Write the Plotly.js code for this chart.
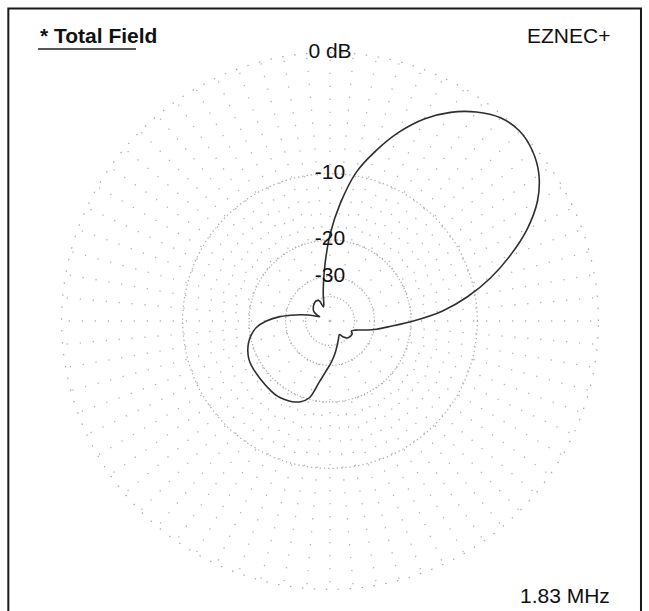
<!DOCTYPE html>
<html>
<head>
<meta charset="utf-8">
<script src="https://cdn.plot.ly/plotly-3.0.1.min.js"></script>
<style>
  html, body { margin: 0; padding: 0; background: #ffffff; }
  #chart { width: 649px; height: 611px; }
</style>
</head>
<body>
<div id="chart"></div>
<script>
// ---- data (azimuth in degrees, gain in dB relative to max) ----
const azimuthDeg = [0, 5, 10, 15, 20, 25, 30, 35, 40, 45, 50, 55, 60, 65, 70, 75, 80, 85, 90, 95,
  100, 105, 110, 115, 118, 125, 135, 145, 150, 155, 158, 162, 165, 170, 175, 180, 185, 190, 195,
  200, 205, 210, 220, 230, 235, 240, 245, 250, 255, 260, 265, 270, 275, 280, 285, 290, 295, 300,
  305, 310, 315, 320, 325, 330, 335, 340, 345, 350, 355, 360];
const gainDb = [-19.5, -14.5, -10.9, -8.0, -5.6, -3.5, -1.9, -0.85, -0.25, 0, -0.2, -0.85, -1.8, -3.1,
  -4.85, -7.05, -9.6, -13.7, -18.9, -25.8,
  -32.7, -39, -45, -47.5, -41, -40, -41, -43, -44.5, -49, -53, -46, -41, -34, -27.9, -24, -21.5, -20.2, -19.3,
  -18.7, -18.3, -18.15, -18.1, -17.95, -17.9, -18.1, -18.4, -19.0, -20.3, -24.4, -27.7, -30.3, -33.0, -35.8,
  -38.6, -41.2, -43.3, -45.3,
  -46.5, -42.5, -40.3, -39.5, -39.2, -39.2, -40.5, -38.5, -34, -29, -24.7, -19.5];

// ring levels and their labels
const ringDb = [0, -10, -20, -30];
const ringLabels = ['0 dB', '-10', '-20', '-30'];
const innerRingDb = [-20, -30, -40];
const midRingDb = [-10];
const outerRingDb = [0];

const legendText = '* Total Field';
const programText = 'EZNEC+';
const freqText = '1.83 MHz';

// ARRL log scale: radius shrinks by STEP for every 2 dB
const STEP = 0.887;
const toR = db => Math.pow(STEP, -db / 2);
const RMAX = 1.006;

const FONT = 'Liberation Sans, Arial, Helvetica, sans-serif';
const GRID = '#a8a8a8';
const SPOKE = '#b2b2b2';
const radialDots = '1.3px,11.7px';

const ang15 = [], ang5 = [];
for (let a = 0; a < 360; a += 15) if (a % 90 !== 0) ang15.push(a);
for (let a = 0; a < 360; a += 5) if (a % 15 !== 0) ang5.push(a);
const ang90 = [0, 90, 180, 270];

function angAxis(vals) {
  return {
    tickmode: 'array', tickvals: vals, showticklabels: false, ticks: '',
    showline: false, showgrid: true, gridcolor: SPOKE, gridwidth: 1.3,
    griddash: radialDots, rotation: 0, direction: 'counterclockwise'
  };
}
function radAxis(lo, dbs, dash) {
  return {
    range: [lo, RMAX], tickmode: 'array', tickvals: dbs.map(toR),
    showticklabels: false, ticks: '', showline: false,
    showgrid: dbs.length > 0, gridcolor: GRID, gridwidth: 1.2, griddash: dash
  };
}

const lo1 = toR(-30), lo2 = toR(-20);

// grid-only subplots need a (hidden) trace to be drawn
function gridHolder(sub, lo) {
  return {
    type: 'scatterpolar', subplot: sub, mode: 'markers',
    theta: [0], r: [lo], marker: { size: 1, color: 'rgba(0,0,0,0)' },
    hoverinfo: 'skip', showlegend: false
  };
}

const traces = [
  gridHolder('polar', lo1),
  gridHolder('polar2', lo2),
  {
    type: 'scatterpolar', subplot: 'polar3', mode: 'lines',
    theta: azimuthDeg, r: gainDb.map(toR),
    line: { color: '#2e2e2e', width: 1.6, shape: 'spline', smoothing: 0.9 },
    hoverinfo: 'skip', showlegend: false
  },
  {
    type: 'scatterpolar', subplot: 'polar3', mode: 'text',
    theta: ringDb.map(() => 90), r: ringDb.map(toR), text: ringLabels,
    textposition: 'middle center', cliponaxis: false,
    textfont: { family: FONT, size: 21, color: '#111111' },
    hoverinfo: 'skip', showlegend: false
  }
];

const layout = {
  width: 649, height: 611,
  margin: { l: 60, r: 49, t: 51, b: 20, pad: 0 },
  paper_bgcolor: '#ffffff', plot_bgcolor: '#ffffff',
  showlegend: false,
  font: { family: FONT, color: '#111111' },
  polar: {
    domain: { x: [0, 1], y: [0, 1] }, bgcolor: 'rgba(0,0,0,0)', hole: lo1 / RMAX,
    radialaxis: radAxis(lo1, outerRingDb, '1.5px,10.5px'),
    angularaxis: angAxis(ang15)
  },
  polar2: {
    domain: { x: [0, 1], y: [0, 1] }, bgcolor: 'rgba(0,0,0,0)', hole: lo2 / RMAX,
    radialaxis: radAxis(lo2, midRingDb, '1.3px,3px'),
    angularaxis: angAxis(ang5)
  },
  polar3: {
    domain: { x: [0, 1], y: [0, 1] }, bgcolor: 'rgba(0,0,0,0)', hole: 0,
    radialaxis: radAxis(0, innerRingDb, '1.2px,2.1px'),
    angularaxis: angAxis(ang90)
  },
  annotations: [
    { text: '<b>' + legendText + '</b>', xref: 'paper', yref: 'paper', x: -0.0407, y: 1.0278,
      xanchor: 'left', yanchor: 'middle', showarrow: false, font: { family: FONT, size: 21, color: '#111' } },
    { text: programText, xref: 'paper', yref: 'paper', x: 1.0222, y: 1.0278,
      xanchor: 'right', yanchor: 'middle', showarrow: false, font: { family: FONT, size: 21, color: '#111' } },
    { text: freqText, xref: 'paper', yref: 'paper', x: 1.0222, y: -0.0083,
      xanchor: 'right', yanchor: 'middle', showarrow: false, font: { family: FONT, size: 21, color: '#111' } }
  ],
  shapes: [
    { type: 'rect', xref: 'paper', yref: 'paper', x0: -0.0957, x1: 1.0759, y0: -0.06, y1: 1.0785,
      line: { color: '#1a1a1a', width: 2 }, fillcolor: 'rgba(0,0,0,0)', layer: 'above' },
    { type: 'line', xref: 'paper', yref: 'paper', x0: -0.0407, x1: 0.1407, y0: 1.0037, y1: 1.0037,
      line: { color: '#222', width: 1.6 } }
  ]
};

Plotly.newPlot('chart', traces, layout, { staticPlot: true, displayModeBar: false });
</script>
</body>
</html>
